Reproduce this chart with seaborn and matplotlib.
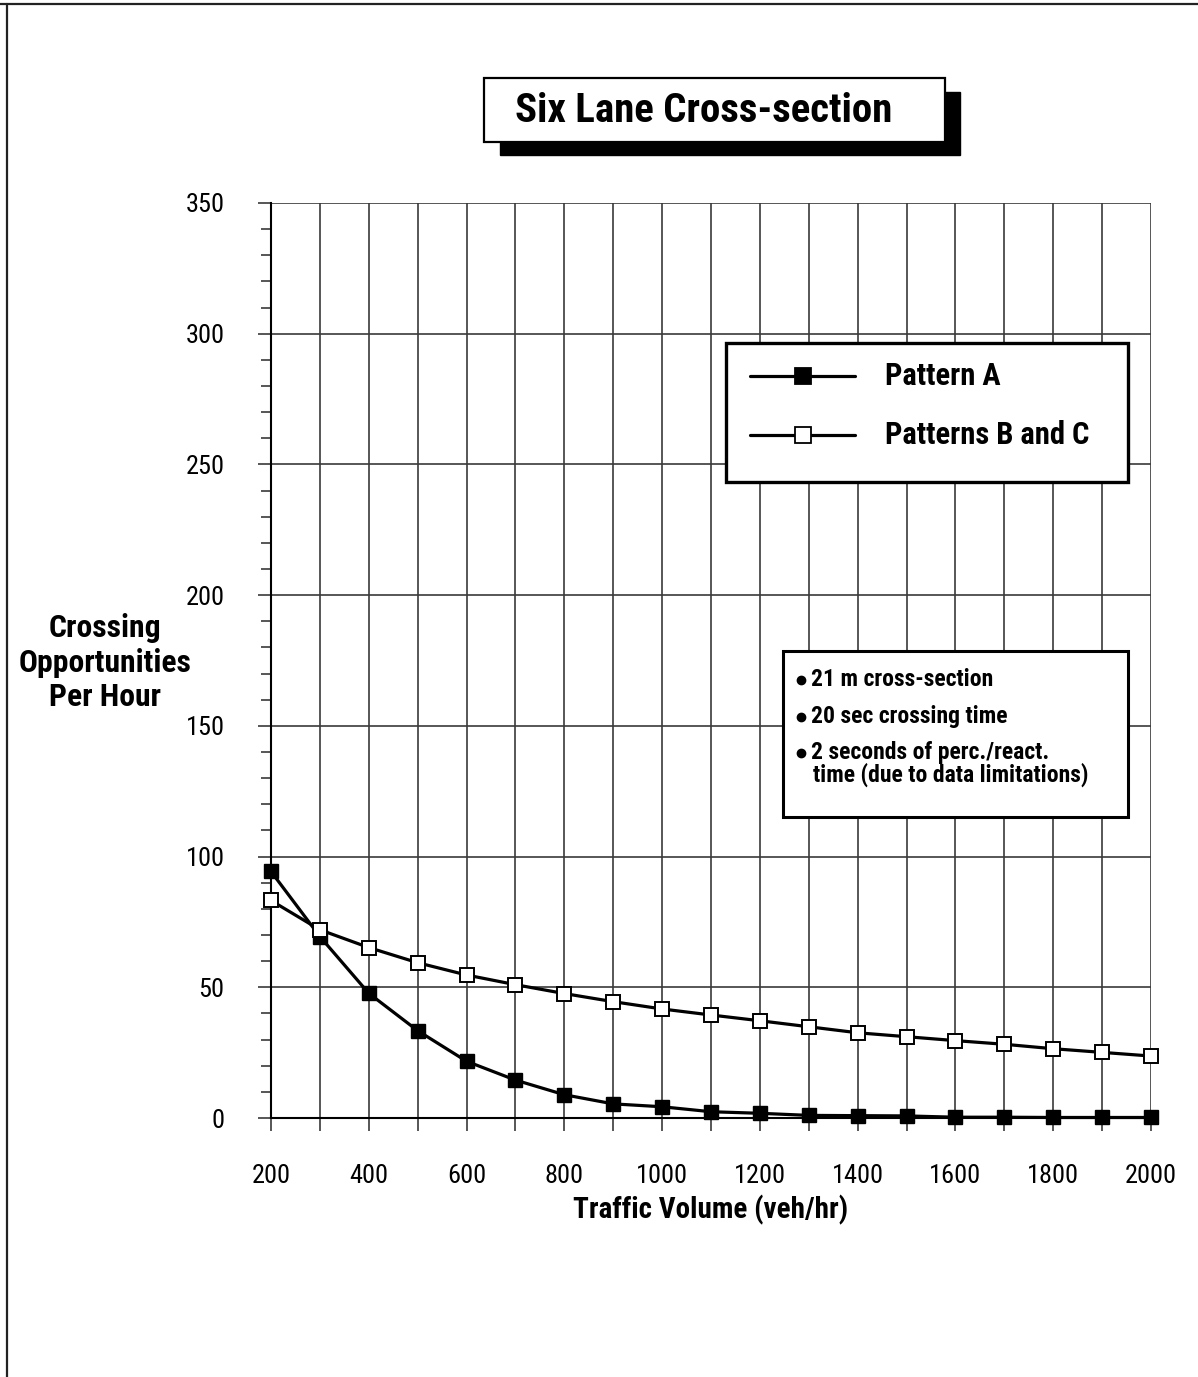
import matplotlib
matplotlib.use("Agg")
import matplotlib.pyplot as plt
import seaborn as sns
import pandas as pd
from matplotlib import font_manager as fm
from matplotlib.patches import Rectangle
from matplotlib.lines import Line2D
from matplotlib.ticker import MultipleLocator, FuncFormatter

# ---------------- data ----------------
volume = [200, 300, 400, 500, 600, 700, 800, 900, 1000, 1100,
          1200, 1300, 1400, 1500, 1600, 1700, 1800, 1900, 2000]
pattern_a = [94.3, 69.4, 47.7, 33.4, 21.7, 14.5, 8.9, 5.4, 4.3, 2.4,
             1.8, 1.0, 0.9, 0.8, 0.3, 0.3, 0.2, 0.2, 0.2]
pattern_bc = [83.2, 72.0, 65.2, 59.4, 54.7, 51.0, 47.6, 44.5, 41.7, 39.4,
              37.2, 34.9, 32.6, 31.1, 29.6, 28.2, 26.5, 25.1, 23.7]
series_names = ["Pattern A", "Patterns B and C"]
title_text = "Six Lane Cross-section"
x_label = "Traffic Volume (veh/hr)"
y_label_lines = ["Crossing", "Opportunities", "Per Hour"]
notes = ["21 m cross-section", "20 sec crossing time",
         "2 seconds of perc./react.", "time (due to data limitations)"]

# ---------------- style ----------------
sns.set_style("white")
names = {f.name for f in fm.fontManager.ttflist}
font_choice = "DejaVu Sans"
for cand in ["Liberation Sans Narrow", "Roboto Condensed", "DejaVu Sans Condensed",
             "Open Sans Condensed", "Noto Sans Condensed", "Roboto", "Liberation Sans"]:
    if cand in names:
        font_choice = cand
        break
plt.rcParams["font.family"] = [font_choice, "DejaVu Sans"]
plt.rcParams["text.color"] = "black"
plt.rcParams["xtick.color"] = "black"
plt.rcParams["ytick.color"] = "black"

W, H = 1198, 1377
fig = plt.figure(figsize=(W / 100, H / 100), dpi=100)
fig.patch.set_facecolor("white")
renderer = fig.canvas.get_renderer()


def fx(px):
    return px / W


def fy(py):
    return 1 - py / H


def fit_size(text, target_px, max_pt, weight="normal"):
    t = fig.text(0, 0, text, fontsize=10, fontweight=weight)
    w = t.get_window_extent(renderer).width
    t.remove()
    return min(max_pt, 10 * target_px / w)


ax_l, ax_r, ax_t, ax_b = 271, 1151, 203, 1118
ax = fig.add_axes([fx(ax_l), fy(ax_b), fx(ax_r - ax_l), (ax_b - ax_t) / H])

df = pd.DataFrame({
    "volume": volume * 2,
    "value": pattern_a + pattern_bc,
    "series": [series_names[0]] * len(volume) + [series_names[1]] * len(volume),
})

sns.lineplot(data=df[df.series == series_names[1]], x="volume", y="value",
             ax=ax, color="black", lw=2.3, marker="s", markersize=10.5,
             markerfacecolor="white", markeredgecolor="black",
             markeredgewidth=1.4, legend=False, zorder=4, clip_on=False)
sns.lineplot(data=df[df.series == series_names[0]], x="volume", y="value",
             ax=ax, color="black", lw=2.3, marker="s", markersize=10,
             markerfacecolor="black", markeredgecolor="black",
             markeredgewidth=1.0, legend=False, zorder=3, clip_on=False)

ax.set_xlim(200, 2000)
ax.set_ylim(0, 350)
ax.xaxis.set_major_locator(MultipleLocator(100))
ax.xaxis.set_major_formatter(FuncFormatter(
    lambda v, p: f"{int(round(v))}" if int(round(v)) % 200 == 0 else ""))
ax.yaxis.set_major_locator(MultipleLocator(50))
ax.yaxis.set_minor_locator(MultipleLocator(10))

ax.grid(True, which="major", color="#3a3a3a", lw=1.2)
ax.set_axisbelow(True)
for side in ["top", "right"]:
    ax.spines[side].set_visible(False)
for side in ["left", "bottom"]:
    ax.spines[side].set_color("black")
    ax.spines[side].set_linewidth(1.5)

tick_pt = fit_size("2000", 52, 19)
ax.tick_params(axis="x", which="major", direction="out", bottom=True, length=9,
               width=1.2, color="#3a3a3a", pad=24, labelsize=tick_pt)
ax.tick_params(axis="y", which="major", direction="out", left=True, length=9.5,
               width=1.2, color="#3a3a3a", pad=24, labelsize=tick_pt)
ax.tick_params(axis="y", which="minor", direction="out", left=True, length=7,
               width=1.2, color="#3a3a3a")
ax.set_xlabel("")
ax.set_ylabel("")

# axis titles
xl_pt = fit_size(x_label, 298, 21, "bold")
fig.text(fx(711), fy(1210), x_label, ha="center", va="center",
         fontsize=xl_pt, fontweight="bold")
yl_pt = fit_size(y_label_lines[1], 173, 23, "bold")
for line, yy in zip(y_label_lines, [628, 663, 697]):
    fig.text(fx(105), fy(yy), line, ha="center", va="center",
             fontsize=yl_pt, fontweight="bold")

# title box with shadow
fig.patches.append(Rectangle((fx(500), fy(155)), fx(960 - 500), (155 - 92) / H,
                             transform=fig.transFigure, facecolor="black",
                             edgecolor="black", zorder=1))
fig.patches.append(Rectangle((fx(484), fy(142)), fx(945 - 484), (142 - 78) / H,
                             transform=fig.transFigure, facecolor="white",
                             edgecolor="black", lw=1.6, zorder=2))
title_pt = fit_size(title_text, 378, 30, "bold")
fig.text(fx(704), fy(111), title_text, ha="center", va="center",
         fontsize=title_pt, fontweight="bold", zorder=3)

# legend box
fig.patches.append(Rectangle((fx(726), fy(482)), fx(1128 - 726), (482 - 343) / H,
                             transform=fig.transFigure, facecolor="white",
                             edgecolor="black", lw=2.4, zorder=5))
leg_pt = fit_size(series_names[1], 214, 22, "bold")
for row_y, name, face in [(376, series_names[0], "black"), (435, series_names[1], "white")]:
    fig.lines.append(Line2D([fx(750), fx(855)], [fy(row_y), fy(row_y)],
                            transform=fig.transFigure, color="black", lw=2.3, zorder=6))
    fig.lines.append(Line2D([fx(803)], [fy(row_y)], transform=fig.transFigure,
                            marker="s", markersize=11, markerfacecolor=face,
                            markeredgecolor="black", markeredgewidth=1.3,
                            lw=0, zorder=7))
    fig.text(fx(885), fy(row_y), name, ha="left", va="center",
             fontsize=leg_pt, fontweight="bold", zorder=8)

# notes box
fig.patches.append(Rectangle((fx(783), fy(817)), fx(1128 - 783), (817 - 651) / H,
                             transform=fig.transFigure, facecolor="white",
                             edgecolor="black", lw=2.2, zorder=5))
note_pt = fit_size(notes[3], 300, 17, "bold")
note_y = [680, 717, 753, 775]
for i, (t, yy) in enumerate(zip(notes, note_y)):
    if i < 3:
        fig.lines.append(Line2D([fx(801)], [fy(yy)], transform=fig.transFigure,
                                marker="o", markersize=6, color="black", lw=0,
                                zorder=8))
        fig.text(fx(811), fy(yy), t, ha="left", va="center",
                 fontsize=note_pt, fontweight="bold", zorder=8)
    else:
        fig.text(fx(813), fy(yy), t, ha="left", va="center",
                 fontsize=note_pt, fontweight="bold", zorder=8)

# page frame
fig.lines.append(Line2D([0, 1], [fy(4), fy(4)], transform=fig.transFigure,
                        color="#222222", lw=1.6))
fig.lines.append(Line2D([fx(7), fx(7)], [fy(4), 0], transform=fig.transFigure,
                        color="#222222", lw=1.6))

fig.savefig("out.png", dpi=100, facecolor="white")
